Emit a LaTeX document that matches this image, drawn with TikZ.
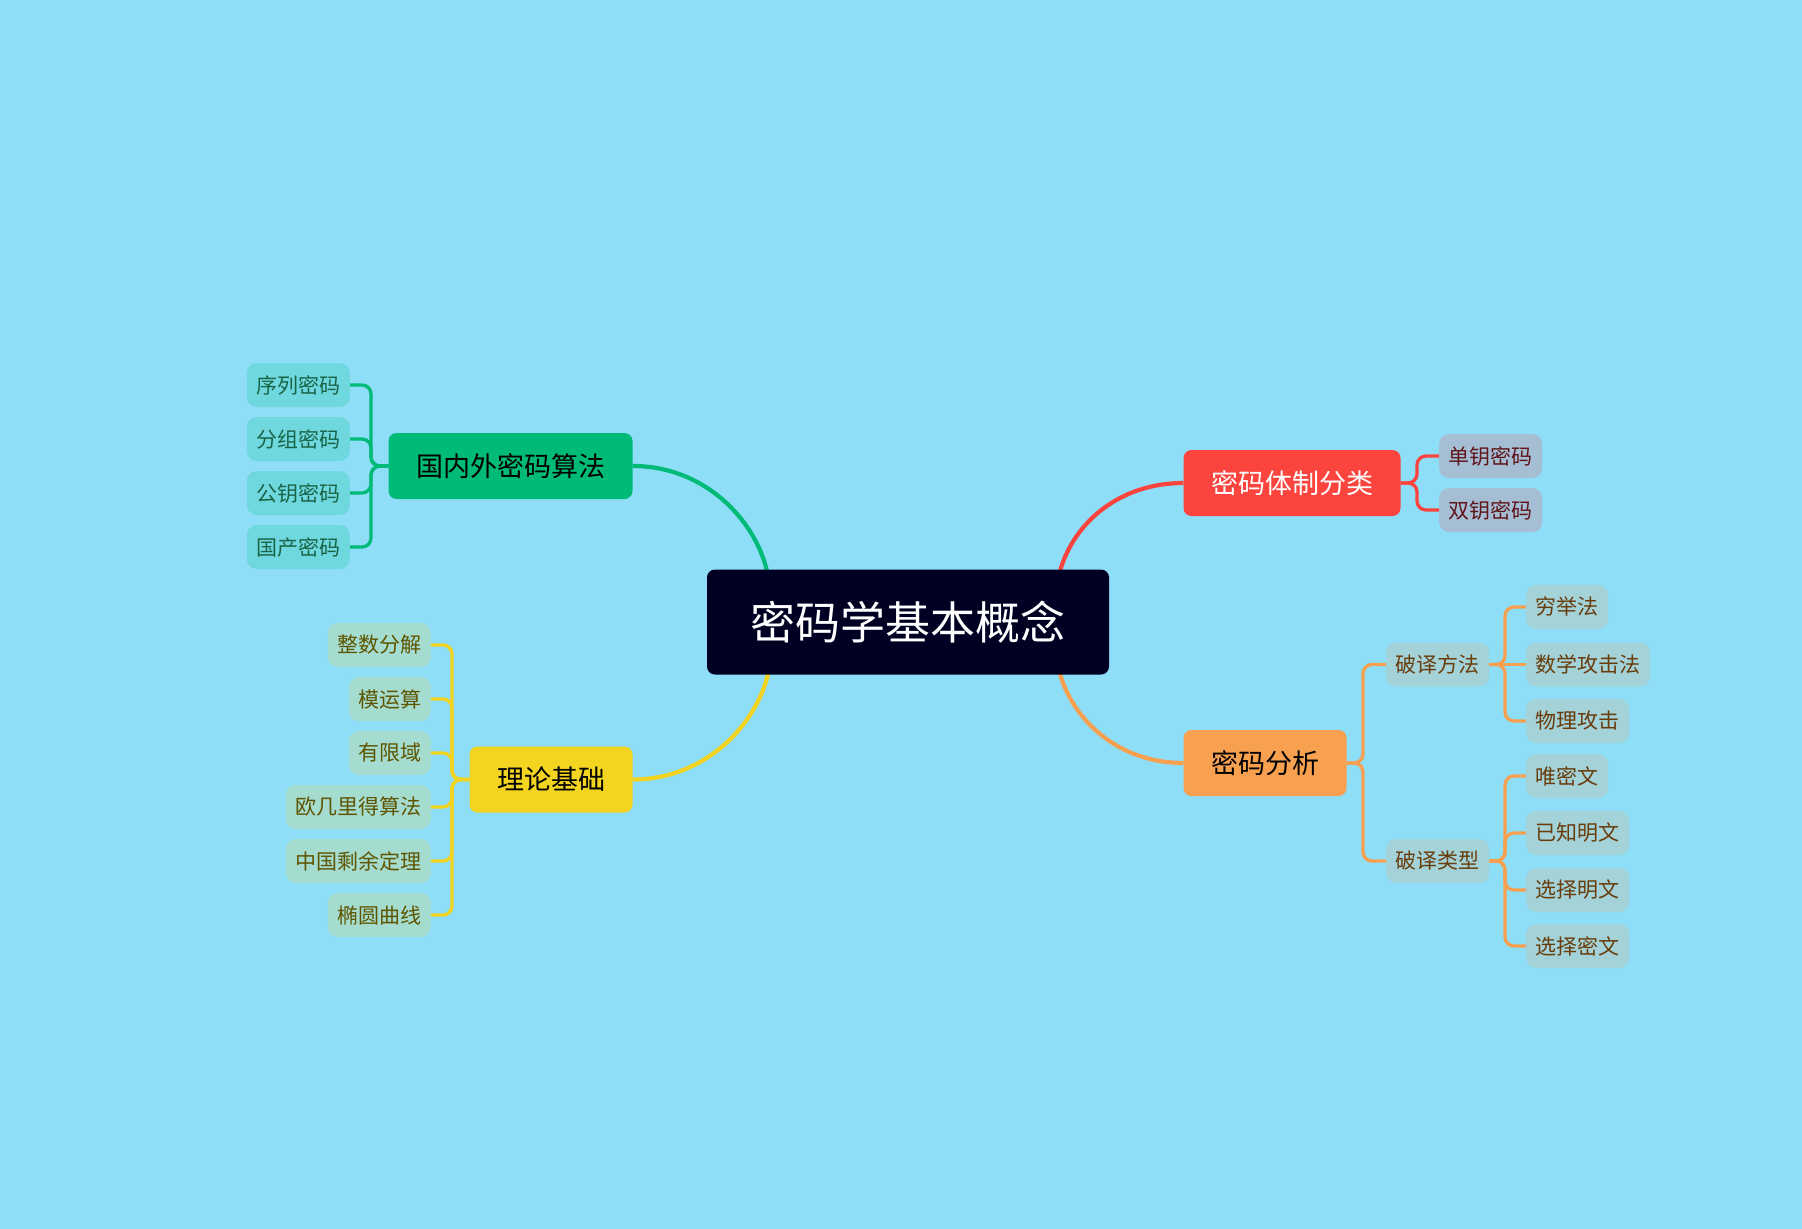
\documentclass[tikz,border=0pt]{standalone}
\usepackage{fontspec}
\setmainfont{Noto Sans CJK SC}
\usetikzlibrary{positioning}
\pgfdeclarelayer{bottom}
\pgfdeclarelayer{background}
\pgfsetlayers{bottom,background,main}
\definecolor{bg}{RGB}{142,222,248}
\definecolor{central}{RGB}{0,0,34}
\definecolor{cgreen}{RGB}{0,187,120}
\definecolor{cred}{RGB}{250,68,61}
\definecolor{corange}{RGB}{247,160,80}
\definecolor{cyellow}{RGB}{242,212,33}
\definecolor{lgreen}{RGB}{111,216,222}
\definecolor{lred}{RGB}{166,190,212}
\definecolor{lorange}{RGB}{163,210,217}
\definecolor{lyellow}{RGB}{164,220,207}
\definecolor{tgreen}{RGB}{25,100,70}
\definecolor{tred}{RGB}{95,20,25}
\definecolor{torange}{RGB}{105,60,10}
\definecolor{tyellow}{RGB}{95,85,0}
\tikzset{
  centralbox/.style={fill=central, text=white, rounded corners=8pt, minimum width=402pt, minimum height=105pt, inner sep=0pt, font=\fontsize{45}{52}\selectfont},
  branchbox/.style={rounded corners=8pt, minimum height=66pt, inner xsep=27.5pt, inner ysep=0pt, font=\fontsize{27}{32}\selectfont},
  leafbox/.style={rounded corners=10pt, minimum height=44pt, inner xsep=9.5pt, inner ysep=0pt, font=\fontsize{21}{25}\selectfont},
  gleaf/.style={leafbox, fill=lgreen, text=tgreen, anchor=east},
  rleaf/.style={leafbox, fill=lred, text=tred, anchor=west},
  oleaf/.style={leafbox, fill=lorange, text=torange, anchor=west},
  yleaf/.style={leafbox, fill=lyellow, text=tyellow, anchor=east},
  mainline/.style={line width=4.2pt},
  leafline/.style={line width=3.3pt, rounded corners=9pt},
}
\begin{document}
\begin{tikzpicture}[x=1pt,y=-1pt]
\begin{pgfonlayer}{bottom}
\fill[bg] (0,0) rectangle (1802,1229);
\end{pgfonlayer}
\useasboundingbox (0,0) rectangle (1802,1229);

\node[centralbox] (C) at (908,622) {密码学基本概念};
\node[branchbox, fill=cgreen, text=black] (G) at (510.5,466) {国内外密码算法};
\node[branchbox, fill=cyellow, text=black] (Y) at (551,779.5) {理论基础};
\node[branchbox, fill=cred, text=white] (R) at (1292,483) {密码体制分类};
\node[branchbox, fill=corange, text=black] (O) at (1265,763) {密码分析};

% green leaves
\node[gleaf] (g1) at (350,385) {序列密码};
\node[gleaf] (g2) at (350,439) {分组密码};
\node[gleaf] (g3) at (350,493) {公钥密码};
\node[gleaf] (g4) at (350,547) {国产密码};

% yellow leaves
\node[yleaf] (y1) at (431,645) {整数分解};
\node[yleaf] (y2) at (431,699) {模运算};
\node[yleaf] (y3) at (431,753) {有限域};
\node[yleaf] (y4) at (431,807) {欧几里得算法};
\node[yleaf] (y5) at (431,861) {中国剩余定理};
\node[yleaf] (y6) at (431,915) {椭圆曲线};

% red leaves
\node[rleaf] (r1) at (1439,456) {单钥密码};
\node[rleaf] (r2) at (1439,510) {双钥密码};

% orange sub nodes
\node[oleaf] (o1) at (1386,664.5) {破译方法};
\node[oleaf] (o2) at (1386,861) {破译类型};
\node[oleaf] (o11) at (1526,607) {穷举法};
\node[oleaf] (o12) at (1526,664.5) {数学攻击法};
\node[oleaf] (o13) at (1526,721) {物理攻击};
\node[oleaf] (o21) at (1526,776) {唯密文};
\node[oleaf] (o22) at (1526,833) {已知明文};
\node[oleaf] (o23) at (1526,890) {选择明文};
\node[oleaf] (o24) at (1526,946) {选择密文};

\coordinate (cg) at (767,571);
\coordinate (cr) at (1060,571);
\coordinate (cy) at (768,674);
\coordinate (co) at (1060,674);

\begin{pgfonlayer}{background}
\draw[mainline, cgreen] (G.east) .. controls (705,466) and (755,520) .. (cg);
\draw[mainline, cred] (R.west) .. controls (1120,483) and (1074,522) .. (cr);
\draw[mainline, cyellow] (Y.east) .. controls (705,779.5) and (756,725) .. (cy);
\draw[mainline, corange] (O.west) .. controls (1120,763) and (1074,722) .. (co);

\foreach \n in {g1,g2,g3,g4}
  \draw[leafline, cgreen] (\n.east) -| (371,466) -- (G.west);
\foreach \n in {y1,y2,y3,y4,y5,y6}
  \draw[leafline, cyellow] (\n.east) -| (452,779.5) -- (Y.west);
\foreach \n in {r1,r2}
  \draw[leafline, cred] (\n.west) -| (1417,483) -- (R.east);
\foreach \n in {o1,o2}
  \draw[leafline, corange] (\n.west) -| (1363,763) -- (O.east);
\foreach \n in {o11,o13}
  \draw[leafline, corange] (\n.west) -| (1505,664.5) -- (o1.east);
\draw[leafline, corange] (o12.west) -- (o1.east);
\foreach \n in {o21,o22,o23,o24}
  \draw[leafline, corange] (\n.west) -| (1505,861) -- (o2.east);
\end{pgfonlayer}
\end{tikzpicture}
\end{document}
